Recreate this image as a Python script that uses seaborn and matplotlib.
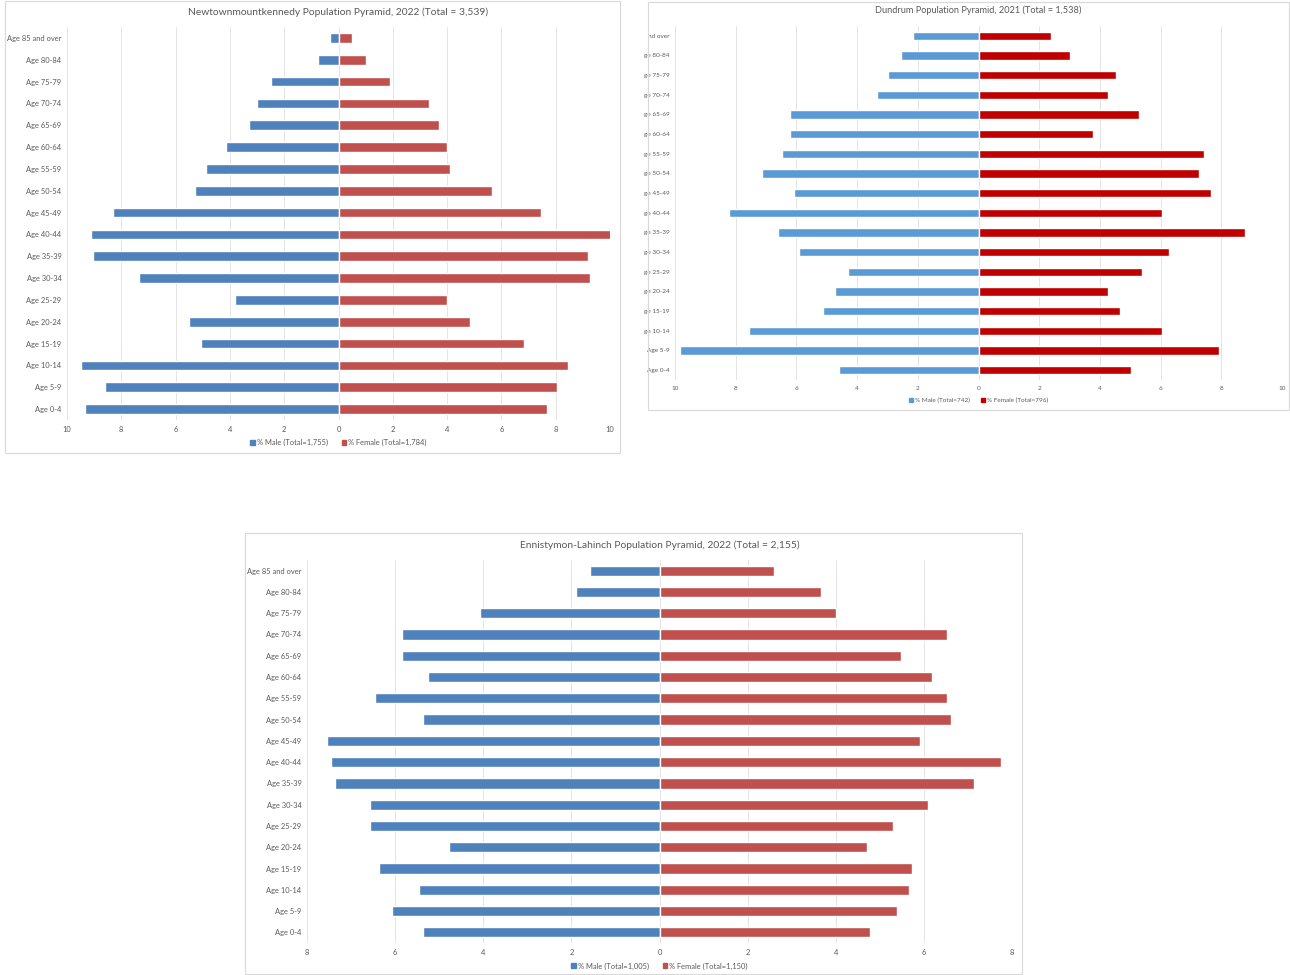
import numpy as np
import pandas as pd
import matplotlib
matplotlib.use("Agg")
import matplotlib.pyplot as plt
from matplotlib.patches import Rectangle
from matplotlib.ticker import FuncFormatter
import seaborn as sns

sns.set_style("white")
plt.rcParams['font.family'] = ['Lato', 'DejaVu Sans']

# age groups, top row first
ages = ['Age 85 and over', 'Age 80-84', 'Age 75-79', 'Age 70-74', 'Age 65-69', 'Age 60-64',
        'Age 55-59', 'Age 50-54', 'Age 45-49', 'Age 40-44', 'Age 35-39', 'Age 30-34',
        'Age 25-29', 'Age 20-24', 'Age 15-19', 'Age 10-14', 'Age 5-9', 'Age 0-4']
# the Dundrum chart has its labels clipped on the left
ages_dundrum = ['nd over', 'ge 80-84', 'ge 75-79', 'ge 70-74', 'ge 65-69', 'ge 60-64',
                'ge 55-59', 'ge 50-54', 'ge 45-49', 'ge 40-44', 'ge 35-39', 'ge 30-34',
                'ge 25-29', 'ge 20-24', 'ge 15-19', 'ge 10-14', 'Age 5-9', 'Age 0-4']

# Newtownmountkennedy, 2022
nmk_male = [0.33, 0.74, 2.49, 3.0, 3.29, 4.14, 4.88, 5.3, 8.32, 9.12, 9.05, 7.34,
            3.8, 5.51, 5.07, 9.5, 8.6, 9.34]
nmk_female = [0.5, 1.01, 1.91, 3.32, 3.7, 3.99, 4.09, 5.67, 7.47, 10.03, 9.2, 9.28,
              3.99, 4.83, 6.84, 8.46, 8.03, 7.68]

# Dundrum, 2021
dun_male = [2.15, 2.57, 2.97, 3.36, 6.2, 6.2, 6.46, 7.14, 6.07, 8.23, 6.61, 5.93,
            4.3, 4.72, 5.13, 7.55, 9.84, 4.58]
dun_female = [2.38, 3.0, 4.52, 4.28, 5.28, 3.77, 7.42, 7.28, 7.67, 6.04, 8.79, 6.29,
              5.4, 4.28, 4.65, 6.04, 7.91, 5.03]

# Ennistymon-Lahinch, 2022
enl_male = [1.57, 1.89, 4.07, 5.85, 5.85, 5.26, 6.46, 5.36, 7.55, 7.46, 7.36, 6.56,
            6.56, 4.77, 6.36, 5.46, 6.06, 5.36]
enl_female = [2.6, 3.66, 4.0, 6.53, 5.48, 6.18, 6.53, 6.61, 5.91, 7.75, 7.14, 6.09,
              5.31, 4.7, 5.74, 5.66, 5.4, 4.78]

W, H = 1290, 975
fig = plt.figure(figsize=(W / 100, H / 100), dpi=100)


def px_axes(left, top, right, bottom):
    return fig.add_axes([left / W, 1 - bottom / H, (right - left) / W, (bottom - top) / H])


def panel(left, top, right, bottom):
    fig.patches.append(Rectangle((left / W, 1 - bottom / H), (right - left) / W, (bottom - top) / H,
                                 transform=fig.transFigure, fill=False, edgecolor='#d9d9d9', lw=0.8))


def pyramid(ax, labels, male, female, colors, lim, title, legend_labels, bar_h, fs, title_y, leg_y):
    df = pd.DataFrame({
        'age': labels + labels,
        'value': [-m for m in male] + list(female),
        'sex': ['male'] * len(labels) + ['female'] * len(labels),
    })
    sns.barplot(data=df, x='value', y='age', hue='sex', orient='h', dodge=False,
                palette=colors, width=bar_h, order=labels, ax=ax, legend=False,
                saturation=1)
    ax.set_xlim(-lim, lim)
    ax.set_xticks(np.arange(-lim, lim + 1, 2))
    ax.xaxis.set_major_formatter(FuncFormatter(lambda v, p: f"{abs(int(v))}"))
    ax.grid(axis='x', color='#e4e4e4', lw=0.7)
    ax.grid(axis='y', visible=False)
    ax.set_axisbelow(True)
    for s in ax.spines.values():
        s.set_visible(False)
    ax.tick_params(axis='both', length=0, labelsize=fs, colors='#595959', pad=4)
    ax.set_xlabel('')
    ax.set_ylabel('')
    ax.set_title(title, fontsize=fs + 2, color='#595959', y=title_y)
    handles = [Rectangle((0, 0), 1, 1, color=colors['male']),
               Rectangle((0, 0), 1, 1, color=colors['female'])]
    ax.legend(handles, legend_labels, loc='center', bbox_to_anchor=(0.5, leg_y), ncol=2,
              frameon=False, fontsize=fs, handlelength=0.6, handleheight=0.6,
              handletextpad=0.3, columnspacing=1.8, labelcolor='#595959')


# chart 1
panel(5, 1, 620, 453)
ax1 = px_axes(67, 27, 610, 420)
pyramid(ax1, ages, nmk_male, nmk_female, {'male': '#4f81bd', 'female': '#c0504d'}, 10,
        'Newtownmountkennedy Population Pyramid, 2022 (Total = 3,539)',
        ['% Male (Total=1,755)', '% Female (Total=1,784)'], 0.45, 5.4, 1.01, -0.058)

# chart 2
panel(648, 2, 1289, 410)
ax2 = px_axes(675, 26, 1282, 380)
pyramid(ax2, ages_dundrum, dun_male, dun_female, {'male': '#5b9bd5', 'female': '#c00000'}, 10,
        'Dundrum Population Pyramid, 2021 (Total = 1,538)',
        ['% Male (Total=742)', '% Female (Total=796)'], 0.42, 4.6, 1.012, -0.058)

# chart 3
panel(245, 533, 1022, 974)
ax3 = px_axes(307, 560, 1012, 943)
pyramid(ax3, ages, enl_male, enl_female, {'male': '#4f81bd', 'female': '#c0504d'}, 8,
        'Ennistymon-Lahinch Population Pyramid, 2022 (Total = 2,155)',
        ['% Male (Total=1,005)', '% Female (Total=1,150)'], 0.48, 5.4, 1.01, -0.06)

fig.savefig('out.png', dpi=100)
